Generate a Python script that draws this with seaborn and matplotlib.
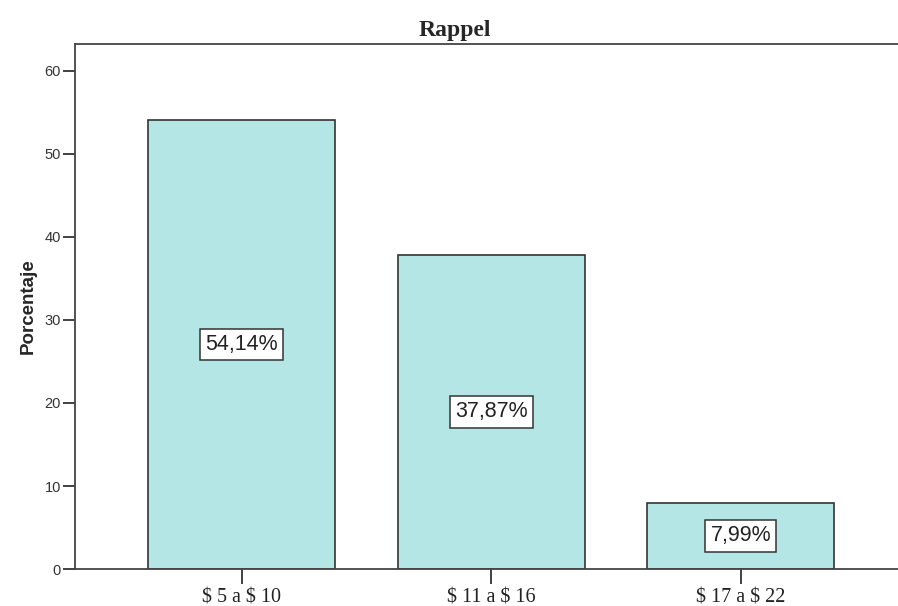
import pandas as pd
import numpy as np
import matplotlib
matplotlib.use('Agg')
import matplotlib.pyplot as plt
import seaborn as sns

# Data
categories = ['$ 5 a $ 10', '$ 11 a $ 16', '$ 17 a $ 22']
percentages = [54.14, 37.87, 7.99]
bar_labels = ['54,14%', '37,87%', '7,99%']

df = pd.DataFrame({'rango': categories, 'porcentaje': percentages})

sns.set_style('white')
plt.rcParams['font.family'] = ['Liberation Sans', 'DejaVu Sans']

fig = plt.figure(figsize=(8.98, 6.06), dpi=100)
ax = fig.add_axes([0.0835, 0.061, 0.9165, 0.8665])

sns.barplot(data=df, x='rango', y='porcentaje', color='#b4e6e6', saturation=1,
            edgecolor='#333333', linewidth=1.2, width=0.75, ax=ax)

ax.bar_label(ax.containers[0], labels=bar_labels, label_type='center',
             fontsize=15.5, color='#222222',
             bbox=dict(boxstyle='square,pad=0.24', facecolor='white',
                       edgecolor='#333333', linewidth=1.1))

ax.set_xlim(-0.668, 2.63)
ax.set_ylim(0, 63.25)
ax.set_yticks([0, 10, 20, 30, 40, 50, 60])
# escape the dollar signs so they are not read as mathtext
ax.set_xticks(range(len(categories)), [c.replace('$', r'\$') for c in categories],
              family=['Liberation Serif', 'DejaVu Serif'])
ax.tick_params(axis='y', direction='out', length=9, width=1.3, color='#333333',
               labelsize=10.5, labelcolor='#333333', left=True, pad=1)
ax.tick_params(axis='x', direction='out', length=11, width=1.3, color='#333333',
               labelsize=14.5, labelcolor='#222222', bottom=True, pad=3)

for side in ['left', 'bottom', 'top']:
    ax.spines[side].set_color('#444444')
    ax.spines[side].set_linewidth(1.3)
ax.spines['right'].set_visible(False)

ax.set_xlabel('')
ax.set_ylabel('Porcentaje', fontsize=13.5, fontweight='bold', labelpad=6)
ax.set_title('Rappel', fontsize=17, fontweight='bold', x=0.462,
             family=['Liberation Serif', 'DejaVu Serif'], pad=6)

fig.savefig('out.png', dpi=100)
